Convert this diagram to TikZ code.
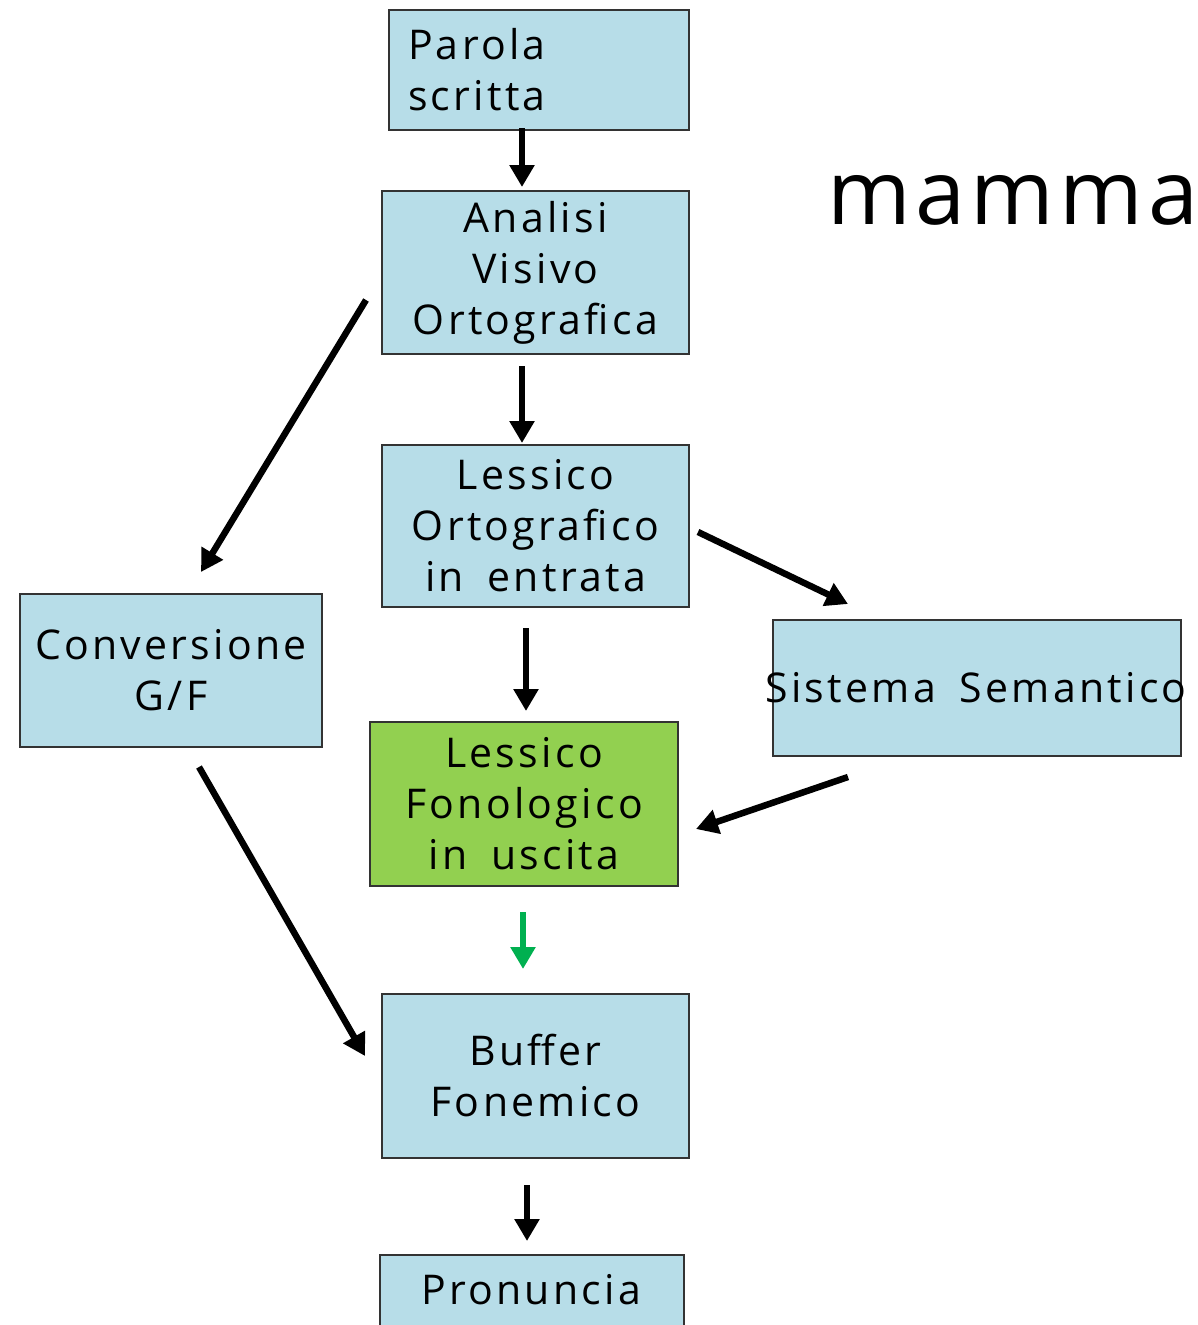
\documentclass[tikz,border=0pt]{standalone}
\usepackage{fontspec}
\setmainfont{Open Sans}[LetterSpace=8,WordSpace=1.7]
\newfontfamily\bigfont{Open Sans}[LetterSpace=5.5]
\usetikzlibrary{arrows.meta}
\definecolor{boxblue}{HTML}{B7DDE8}
\definecolor{boxgreen}{HTML}{92D050}
\definecolor{arrgreen}{HTML}{00B050}
\definecolor{edge}{HTML}{333333}
\begin{document}
\begin{tikzpicture}[x=1pt,y=-1pt,
  box/.style={draw=edge,line width=1.5pt,fill=boxblue,rectangle,inner sep=0pt,
    align=center,font=\fontsize{41}{51}\selectfont},
  flow/.style={line width=6.5pt,-{Triangle[length=22pt,width=24pt]}},
  gflow/.style={flow,arrgreen}]
\useasboundingbox (0,0) rectangle (1198,1325);

% boxes
\node[box,minimum width=300pt,minimum height=120pt,text width=262pt,align=left]
  (parola) at (539,70) {Parola\\scritta};
\node[box,minimum width=307pt,minimum height=163pt] (analisi) at (535.5,272.5)
  {Analisi\\Visivo\\Ortografica};
\node[box,minimum width=307pt,minimum height=162pt] (lessort) at (535.5,526)
  {Lessico\\Ortografico\\in entrata};
\node[box,minimum width=302pt,minimum height=153pt] (conv) at (171,670.5)
  {Conversione\\G/F};
\node[box,minimum width=408pt,minimum height=136pt] (sem) at (977,688) {};
\node[font=\fontsize{41}{51}\selectfont,inner sep=0pt] (semtext) at (976,688)
  {Sistema Semantico};
\node[box,fill=boxgreen,minimum width=308pt,minimum height=164pt] (fono) at (524,804)
  {Lessico\\Fonologico\\in uscita};
\node[box,minimum width=307pt,minimum height=164pt] (buffer) at (535.5,1076)
  {Buffer\\Fonemico};
\node[box,minimum width=304pt,minimum height=90pt,anchor=north] (pron) at (532,1254) {};
\node[font=\fontsize{41}{51}\selectfont,inner sep=0pt] (prontext) at (531,1290)
  {Pronuncia};

% title word
\node[font=\bigfont\fontsize{90}{100}\selectfont,inner sep=0pt,anchor=base west]
  (word) at (827,224) {mamma};

% arrow end points
\coordinate (a1) at (522,128);   \coordinate (b1) at (522,187);
\coordinate (a2) at (522,366);   \coordinate (b2) at (522,443);
\coordinate (a3) at (366,300);   \coordinate (b3) at (201,572);
\coordinate (a4) at (698,532);   \coordinate (b4) at (848,604);
\coordinate (a5) at (526,628);   \coordinate (b5) at (526,711);
\coordinate (a6) at (848,777);   \coordinate (b6) at (696,829);
\coordinate (a7) at (523,912);   \coordinate (b7) at (523,969);
\coordinate (a8) at (199,767);   \coordinate (b8) at (365,1056);
\coordinate (a9) at (527,1185);  \coordinate (b9) at (527,1241);

% connectors
\draw[flow] (a1) -- (b1);
\draw[flow] (a2) -- (b2);
\draw[flow] (a3) -- (b3);
\draw[flow] (a4) -- (b4);
\draw[flow] (a5) -- (b5);
\draw[flow] (a6) -- (b6);
\draw[gflow] (a7) -- (b7);
\draw[flow] (a8) -- (b8);
\draw[flow] (a9) -- (b9);
\end{tikzpicture}
\end{document}
